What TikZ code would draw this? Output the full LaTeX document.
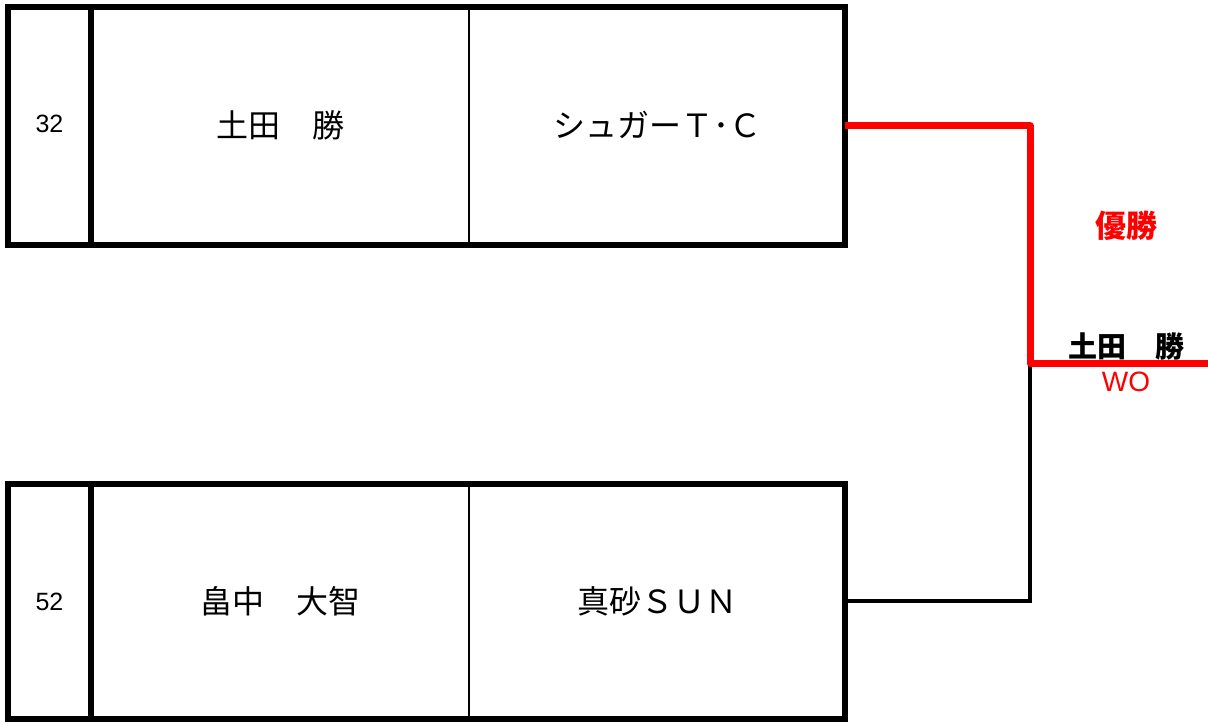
\documentclass[tikz,border=0pt]{standalone}
\usepackage{fontspec}
\setmainfont{Liberation Sans}
\newfontfamily\jp{Noto Sans CJK JP}
\definecolor{winred}{HTML}{FF0000}
\tikzset{
  entrybox/.style={draw=black, line width=6pt, minimum width=837pt, minimum height=238pt, inner sep=0pt, outer sep=0pt},
  numtext/.style={font=\fontsize{25}{30}\selectfont, inner sep=0pt},
  jptext/.style={font=\jp\fontsize{32}{38}\selectfont, inner sep=0pt},
  lbl/.style={inner sep=0pt},
  winline/.style={draw=winred, line width=7pt, line join=round},
  loseline/.style={draw=black, line width=3.5pt, line join=miter}
}
\begin{document}
\begin{tikzpicture}[x=1pt,y=-1pt]
\useasboundingbox (0,0) rectangle (1208,722);
% entry 1
\node[entrybox] (p1) at (426.5,126) {};
\draw[line width=6pt] (91,7) -- (91,245);
\draw[line width=2.5pt] (469,7) -- (469,245);
\node[numtext] (n1) at (49.5,124) {32};
\node[jptext] (m1) at (280,125) {土田　勝};
\node[jptext] (t1) at (657,125) {シュガーＴ･Ｃ};
% entry 2
\node[entrybox, minimum height=235pt] (p2) at (426.5,601) {};
\draw[line width=6pt] (91,483.5) -- (91,718.5);
\draw[line width=2.5pt] (469,483.5) -- (469,718.5);
\node[numtext] (n2) at (49.5,602) {52};
\node[jptext] (m2) at (280,601) {畠中　大智};
\node[jptext] (t2) at (657,601) {真砂ＳＵＮ};
% bracket
\coordinate (j) at (1030,363);
\coordinate (w) at (1208,363);
\draw[loseline] (p2.east) -| (j);
\draw[winline] (p1.east) -| (j) -- (w);
\node[lbl, text=winred, font=\jp\bfseries\fontsize{31}{36}\selectfont] (champ) at (1126,226) {優勝};
\node[lbl, font=\jp\bfseries\fontsize{29}{34}\selectfont] (wname) at (1126,346) {土田　勝};
\node[lbl, text=winred, font=\fontsize{28}{32}\selectfont] (score) at (1126,382) {WO};
\end{tikzpicture}
\end{document}
